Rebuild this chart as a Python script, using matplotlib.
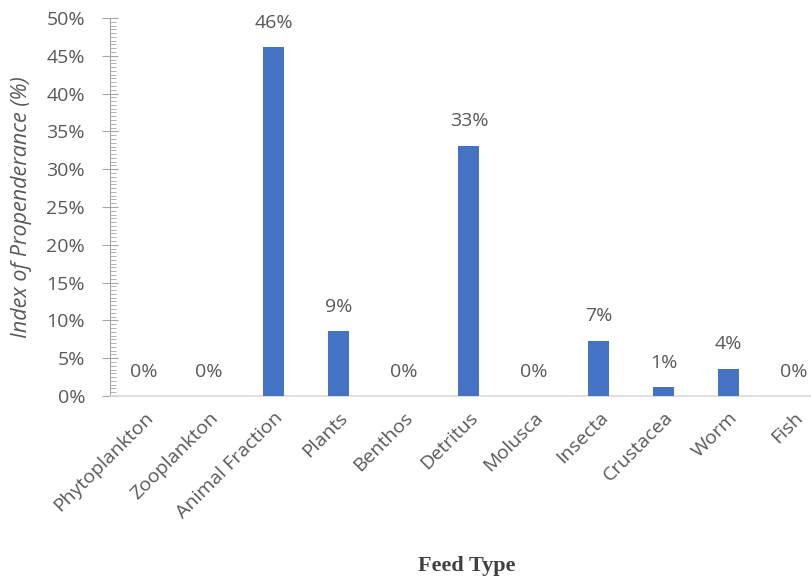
import numpy as np
import matplotlib
matplotlib.use("Agg")
import matplotlib.pyplot as plt
import matplotlib.transforms as mtransforms
from matplotlib.ticker import MultipleLocator, PercentFormatter

# data
categories = ["Phytoplankton", "Zooplankton", "Animal Fraction", "Plants", "Benthos",
              "Detritus", "Molusca", "Insecta", "Crustacea", "Worm", "Fish"]
values = [0, 0, 46.1, 8.6, 0, 33.1, 0, 7.3, 1.2, 3.6, 0]
labels = ["0%", "0%", "46%", "9%", "0%", "33%", "0%", "7%", "1%", "4%", "0%"]

text_grey = "#595959"
bar_blue = "#4472C4"
plt.rcParams["font.family"] = ["Open Sans", "DejaVu Sans"]

fig = plt.figure(figsize=(8.12, 5.82), dpi=100)
ax = fig.add_axes([0.1355, 0.3196, 0.8645, 0.6495])

x = np.arange(len(categories))
ax.bar(x, values, width=0.32, color=bar_blue, zorder=3)

for xi, v, lab in zip(x, values, labels):
    ax.annotate(lab, (xi, v), xytext=(0, 17.5), textcoords="offset points",
                ha="center", va="center", fontsize=14, color=text_grey)

ax.set_xlim(-0.52, 10.28)
ax.set_ylim(0, 50)
ax.yaxis.set_major_locator(MultipleLocator(5))
ax.yaxis.set_minor_locator(MultipleLocator(0.5))
ax.yaxis.set_major_formatter(PercentFormatter(decimals=0))

ax.set_xticks(x)
ax.set_xticklabels(categories, rotation=45, ha="right", rotation_mode="anchor",
                   fontsize=14, color=text_grey)
shift = mtransforms.ScaledTranslation(-4 / 100, 0, fig.dpi_scale_trans)
for t in ax.get_xticklabels():
    t.set_transform(t.get_transform() + shift)
ax.tick_params(axis="x", length=0, pad=9)
ax.tick_params(axis="y", which="major", direction="inout", length=12, width=0.8,
               color="#a6a6a6", labelsize=14, labelcolor=text_grey, pad=12)
ax.tick_params(axis="y", which="minor", direction="in", length=4, width=0.6,
               color="#a6a6a6")

for side in ["top", "right"]:
    ax.spines[side].set_visible(False)
ax.spines["left"].set_color("#a6a6a6")
ax.spines["bottom"].set_color("#d9d9d9")
ax.spines["bottom"].set_linewidth(1.2)

ax.set_ylabel("Index of Propenderance (%)", fontsize=15.5, style="italic",
              color=text_grey, labelpad=10)
fig.text(0.575, 0.027, "Feed Type", ha="center", va="center",
         fontsize=16, fontweight="bold", family="Liberation Serif", color="#404040")

fig.savefig("out.png", dpi=100)
